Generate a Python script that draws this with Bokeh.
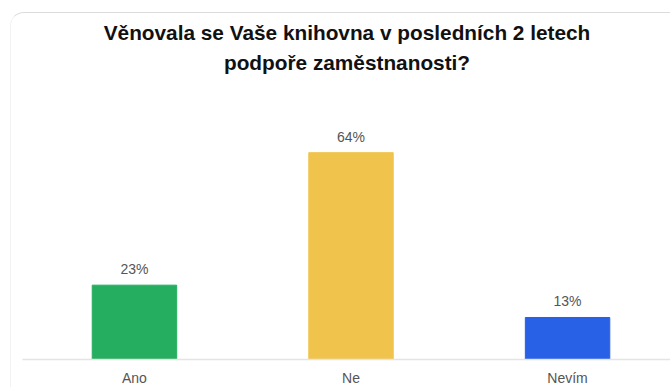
from bokeh.plotting import figure
from bokeh.models import Range1d, FixedTicker, ColumnDataSource, Title
from bokeh.embed import file_html
from bokeh.resources import INLINE

# Survey answers and their shares (percent)
categories = ["Ano", "Ne", "Nevím"]
shares = [23, 64, 13]
colors = ["#26AE60", "#F0C44C", "#2860E6"]
title_lines = [
    "Věnovala se Vaše knihovna v posledních 2 letech",
    "podpoře zaměstnanosti?",
]

positions = list(range(len(categories)))
src = ColumnDataSource(dict(
    x=positions,
    top=shares,
    color=colors,
    label=[f"{v}%" for v in shares],
))

FONT = "Liberation Sans"

p = figure(
    width=660, height=375,
    output_backend="svg", toolbar_location=None,
    x_range=Range1d(-0.517, 2.480), y_range=Range1d(0, 85.4),
    min_border_left=11, min_border_right=0,
    min_border_bottom=20, min_border_top=70,
)

# card look: thin rule on top, rounded top-left corner
p.margin = (12, 0, 0, 10)
p.styles = {
    "border-top": "1px solid #dcdcdc",
    "border-left": "1px solid #f2f2f2",
    "border-top-left-radius": "14px",
    "overflow": "hidden",
}
p.border_fill_color = "white"
p.background_fill_color = "white"
p.outline_line_color = None

# two-line heading, each line centred on its own
heading = dict(align="center", text_font=FONT, text_font_size="20.8px",
               text_font_style="bold", text_color="#111111")
p.add_layout(Title(text=title_lines[1], standoff=19, **heading), "above")
p.title.text = title_lines[0]
p.title.standoff = -9
for k, v in heading.items():
    setattr(p.title, k, v)

p.vbar(x="x", top="top", width=0.39, color="color", source=src)

p.text(x="x", y="top", text="label", source=src,
       text_align="center", text_baseline="alphabetic", y_offset=-16,
       text_font_size="14px", text_color="#555555", text_font={"value": FONT})

p.xaxis.ticker = FixedTicker(ticks=positions)
p.xaxis.major_label_overrides = {i: c for i, c in zip(positions, categories)}
p.xaxis.major_tick_line_color = None
p.xaxis.minor_tick_line_color = None
p.xaxis.axis_line_color = "#e4e4e4"
p.xaxis.axis_line_width = 1.5
p.xaxis.major_label_text_font = FONT
p.xaxis.major_label_text_font_size = "14px"
p.xaxis.major_label_text_color = "#555555"
p.xaxis.major_label_standoff = 4
p.yaxis.visible = False
p.xgrid.visible = False
p.ygrid.visible = False

open("out.html", "w").write(file_html(p, INLINE))
